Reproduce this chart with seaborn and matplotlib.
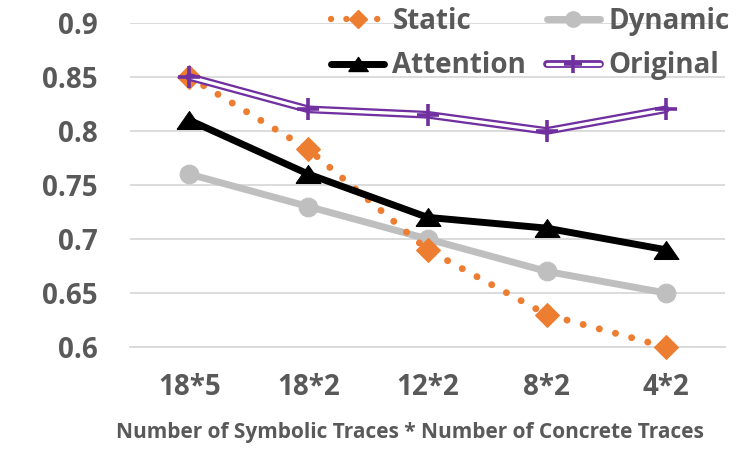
import matplotlib
matplotlib.use("Agg")
import matplotlib.pyplot as plt
from matplotlib.lines import Line2D
from matplotlib.legend_handler import HandlerTuple
import seaborn as sns

categories = ["18*5", "18*2", "12*2", "8*2", "4*2"]
static = [0.85, 0.783, 0.69, 0.63, 0.60]
dynamic = [0.76, 0.73, 0.70, 0.67, 0.65]
attention = [0.81, 0.76, 0.72, 0.71, 0.69]
original = [0.85, 0.82, 0.815, 0.80, 0.82]
yticks = [0.6, 0.65, 0.7, 0.75, 0.8, 0.85, 0.9]
ytick_labels = ["0.6", "0.65", "0.7", "0.75", "0.8", "0.85", "0.9"]
xlabel = "Number of Symbolic Traces * Number of Concrete Traces"

ORANGE = "#ED7D31"
GRAY = "#BFBFBF"
BLACK = "#000000"
PURPLE = "#7030A0"
TEXT = "#595959"
GRID = "#D9D9D9"

sns.set_theme(style="white")
plt.rcParams["font.family"] = ["Open Sans", "DejaVu Sans"]
plt.rcParams["font.weight"] = "bold"

fig = plt.figure(figsize=(7.5, 4.5), dpi=100)
ax = fig.add_axes([0.173, 0.229, 0.794, 0.72])

tri = [(-1, -0.72), (1, -0.72), (0, 0.72), (-1, -0.72)]

sns.lineplot(x=categories, y=dynamic, ax=ax, sort=False, color=GRAY, lw=5,
             marker="o", ms=13.5, mec=GRAY, mfc=GRAY, clip_on=False, zorder=3)
sns.lineplot(x=categories, y=static, ax=ax, sort=False, color=ORANGE, lw=5,
             linestyle=(0, (0.01, 2.4)), dash_capstyle="round",
             marker="D", ms=12, mec=ORANGE, mfc=ORANGE, clip_on=False, zorder=4)
sns.lineplot(x=categories, y=attention, ax=ax, sort=False, color=BLACK, lw=5,
             marker=tri, ms=18, mec=BLACK, mfc=BLACK, clip_on=False, zorder=5)
sns.lineplot(x=categories, y=original, ax=ax, sort=False, color=PURPLE, lw=5.6,
             clip_on=False, zorder=6)
sns.lineplot(x=categories, y=original, ax=ax, sort=False, color="white", lw=2.3,
             clip_on=False, zorder=7)
sns.lineplot(x=categories, y=original, ax=ax, sort=False, color=PURPLE, lw=0,
             marker="+", ms=16, mew=2.6, mec=PURPLE, clip_on=False, zorder=8)

ax.set_xlim(-0.5, len(categories) - 0.5)
ax.set_ylim(0.6, 0.9)
ax.set_yticks(yticks)
ax.set_yticklabels(ytick_labels)
ax.set_xticks(range(len(categories)))
ax.set_xticklabels(categories)
ax.set_xticks([i - 0.5 for i in range(len(categories) + 1)], minor=True)

ax.tick_params(axis="y", length=0, pad=23, labelsize=20, labelcolor=TEXT)
ax.tick_params(axis="x", which="major", length=0, pad=19, labelsize=20, labelcolor=TEXT)
ax.tick_params(axis="x", which="minor", length=7, width=1.2, color=GRID, direction="out")
for lab in ax.get_xticklabels() + ax.get_yticklabels():
    lab.set_fontweight("bold")

ax.yaxis.grid(True, color=GRID, lw=1.3)
ax.xaxis.grid(False)
ax.set_axisbelow(True)
for s in ["left", "top", "right"]:
    ax.spines[s].set_visible(False)
ax.spines["bottom"].set_color(GRID)
ax.spines["bottom"].set_linewidth(1.3)

ax.set_xlabel(xlabel, fontsize=15, color=TEXT, fontweight="bold")
ax.xaxis.set_label_coords(0.47, -0.232)
ax.set_ylabel("")

h_static = Line2D([], [], color=ORANGE, lw=4.6, linestyle=(0, (0.01, 2.4)),
                  dash_capstyle="round", marker="D", ms=9, mfc=ORANGE, mec=ORANGE)
h_dynamic = Line2D([], [], color=GRAY, lw=5, marker="o", ms=11, mfc=GRAY, mec=GRAY,
                   solid_capstyle="round")
h_att = Line2D([], [], color=BLACK, lw=5, marker=tri, ms=14, mfc=BLACK, mec=BLACK,
               solid_capstyle="round")
h_o1 = Line2D([], [], color=PURPLE, lw=5.6, solid_capstyle="round")
h_o2 = Line2D([], [], color="white", lw=2.3, solid_capstyle="round")
h_o3 = Line2D([], [], color=PURPLE, lw=0, marker="+", ms=13, mew=2.6)

leg = fig.legend(handles=[h_static, h_att, h_dynamic, (h_o1, h_o2, h_o3)],
                 labels=["Static", "Attention", "Dynamic", "Original"],
                 handler_map={tuple: HandlerTuple(ndivide=1, pad=0)},
                 ncol=2, loc="center", bbox_to_anchor=(0.707, 0.903),
                 frameon=False, fontsize=20, handlelength=1.9, handletextpad=0.3,
                 columnspacing=0.75, labelspacing=0.55, borderpad=0.2)
for t in leg.get_texts():
    t.set_color(TEXT)
    t.set_fontweight("bold")

fig.savefig("out.png", dpi=100)
